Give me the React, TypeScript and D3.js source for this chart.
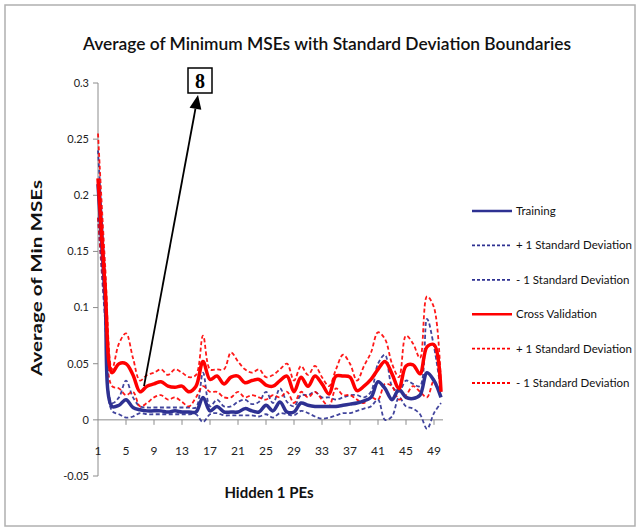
import * as d3 from 'd3';

// Hidden 1 PEs, 1..50
const categories = d3.range(1, 51);
const tickLabels = [1, 5, 9, 13, 17, 21, 25, 29, 33, 37, 41, 45, 49];
const yTicks = [-0.05, 0, 0.05, 0.1, 0.15, 0.2, 0.25, 0.3];

const training = [
  0.21, 0.11, 0.012, 0.013, 0.018, 0.011, 0.009, 0.008, 0.008, 0.008,
  0.007, 0.008, 0.007, 0.007, 0.007, 0.02, 0.008, 0.012, 0.007, 0.007,
  0.007, 0.01, 0.008, 0.007, 0.013, 0.008, 0.016, 0.007, 0.007, 0.015,
  0.013, 0.012, 0.012, 0.012, 0.012, 0.013, 0.014, 0.015, 0.017, 0.02,
  0.034, 0.028, 0.018, 0.027, 0.02, 0.019, 0.022, 0.042, 0.035, 0.02,
];
const trainingPlus = [
  0.24, 0.13, 0.015, 0.02, 0.035, 0.02, 0.012, 0.011, 0.011, 0.011,
  0.011, 0.011, 0.011, 0.011, 0.011, 0.042, 0.012, 0.018, 0.012, 0.012,
  0.016, 0.018, 0.014, 0.016, 0.025, 0.015, 0.028, 0.016, 0.012, 0.022,
  0.022, 0.025, 0.02, 0.02, 0.018, 0.02, 0.022, 0.022, 0.02, 0.025,
  0.05, 0.058, 0.03, 0.025, 0.035, 0.032, 0.03, 0.09, 0.065, 0.025,
];
const trainingMinus = [
  0.18, 0.09, 0.008, 0.005, 0.002, 0.003, 0.006, 0.005, 0.005, 0.005,
  0.005, 0.005, 0.005, 0.005, 0.005, -0.002, 0.005, 0.006, 0.004, 0.004,
  0.004, 0.004, 0.004, 0.003, 0.005, 0.002, 0.006, 0.005, 0.004, 0.008,
  0.006, 0.003, 0.001, 0.002, 0.004, 0.006, 0.006, 0.008, 0.01, 0.012,
  0.018, 0.0, 0.003, 0.02, 0.012, 0.01, 0.005, -0.008, 0.006, 0.015,
];
const crossVal = [
  0.215, 0.12, 0.042, 0.05, 0.05, 0.04, 0.025, 0.03, 0.032, 0.034,
  0.03, 0.029, 0.03, 0.025, 0.03, 0.052, 0.036, 0.039, 0.032, 0.038,
  0.039, 0.033, 0.035, 0.036, 0.031, 0.03, 0.035, 0.039, 0.025, 0.038,
  0.03, 0.039, 0.032, 0.023, 0.039, 0.039, 0.038, 0.026, 0.03, 0.036,
  0.045, 0.052, 0.041, 0.028, 0.048, 0.049, 0.041, 0.065, 0.067, 0.025,
];
const crossValPlus = [
  0.255, 0.14, 0.045, 0.068, 0.077, 0.055, 0.035, 0.04, 0.042, 0.045,
  0.04, 0.045, 0.042, 0.038, 0.04, 0.075, 0.045, 0.045, 0.045, 0.06,
  0.052, 0.045, 0.042, 0.045, 0.038, 0.04, 0.045, 0.05, 0.035, 0.048,
  0.04, 0.048, 0.038, 0.03, 0.045, 0.058, 0.05, 0.035, 0.048, 0.06,
  0.078, 0.072, 0.05, 0.038, 0.075, 0.068, 0.055, 0.11, 0.1, 0.03,
];
const crossValMinus = [
  0.18, 0.1, 0.03, 0.028, 0.022, 0.025, 0.012, 0.015, 0.02, 0.022,
  0.018, 0.02, 0.016, 0.012, 0.02, 0.03, 0.025, 0.025, 0.02, 0.02,
  0.025, 0.02, 0.022, 0.02, 0.018, 0.022, 0.02, 0.025, 0.015, 0.025,
  0.02, 0.025, 0.018, 0.012, 0.028, 0.022, 0.022, 0.018, 0.015, 0.02,
  0.018, 0.032, 0.03, 0.018, 0.022, 0.03, 0.025, 0.02, 0.035, 0.02,
];

const BLUE = '#2e3192';
const RED = '#ff0000';

const series = [
  { name: 'Training', values: training, color: BLUE, dashed: false },
  { name: '+ 1 Standard Deviation', values: trainingPlus, color: BLUE, dashed: true },
  { name: '- 1 Standard Deviation', values: trainingMinus, color: BLUE, dashed: true },
  { name: 'Cross Validation', values: crossVal, color: RED, dashed: false },
  { name: '+ 1 Standard Deviation', values: crossValPlus, color: RED, dashed: true },
  { name: '- 1 Standard Deviation', values: crossValMinus, color: RED, dashed: true },
];

const FONT = 'Lato, "Open Sans", sans-serif';

export default function App() {
  const W = 638;
  const H = 529;
  const x = d3.scalePoint<number>().domain(categories).range([98, 441]);
  const y = d3.scaleLinear().domain([-0.05, 0.3]).range([476, 83]);

  const line = d3
    .line<number>()
    .x((_, i) => x(categories[i]) as number)
    .y((d) => y(d))
    .curve(d3.curveCatmullRom.alpha(0.5));

  // draw order: dashed under solid
  const drawOrder = [1, 2, 4, 5, 0, 3];

  const arrowStart: [number, number] = [(x(8) as number) - 3, y(0.03)];
  const arrowTip: [number, number] = [198, 95];
  const ang = Math.atan2(arrowTip[1] - arrowStart[1], arrowTip[0] - arrowStart[0]);
  const headLen = 14;
  const headW = 6;
  const bx = arrowTip[0] - headLen * Math.cos(ang);
  const by = arrowTip[1] - headLen * Math.sin(ang);
  const head = [
    arrowTip,
    [bx + headW * Math.sin(ang), by - headW * Math.cos(ang)],
    [bx - headW * Math.sin(ang), by + headW * Math.cos(ang)],
  ];

  return (
    <svg
      width={W}
      height={H}
      style={{ position: 'absolute', left: 0, top: 0, background: '#fff' }}
    >
      <rect x={5} y={5} width={630} height={521} fill="#fff" stroke="#b0b0b0" strokeWidth={1.5} />

      <text
        x={327}
        y={50}
        textAnchor="middle"
        fontFamily={FONT}
        fontSize={18}
        fontWeight={600}
        fill="#111"
        textLength={488}
        lengthAdjust="spacingAndGlyphs"
      >
        Average of Minimum MSEs with Standard Deviation Boundaries
      </text>

      {/* y axis */}
      <line x1={98} x2={98} y1={y(0.3)} y2={y(-0.05)} stroke="#8c8c8c" />
      {yTicks.map((t) => (
        <g key={t}>
          <line x1={93} x2={98} y1={y(t)} y2={y(t)} stroke="#8c8c8c" />
          <text
            x={89}
            y={y(t)}
            dy="0.35em"
            textAnchor="end"
            fontFamily={FONT}
            fontSize={11}
            fill="#222"
          >
            {t}
          </text>
        </g>
      ))}

      {/* x axis at zero */}
      <line x1={98} x2={443} y1={y(0)} y2={y(0)} stroke="#8c8c8c" />
      {tickLabels.map((c) => (
        <g key={c}>
          {c !== 1 && (
            <line x1={x(c)} x2={x(c)} y1={y(0)} y2={y(0) + 5} stroke="#8c8c8c" />
          )}
          <text
            x={x(c)}
            y={455}
            textAnchor="middle"
            fontFamily={FONT}
            fontSize={12}
            fill="#222"
          >
            {c}
          </text>
        </g>
      ))}

      <text
        transform="translate(42,278) rotate(-90)"
        textAnchor="middle"
        fontFamily={FONT}
        fontSize={15}
        fontWeight="bold"
        fill="#111"
        textLength={196}
        lengthAdjust="spacingAndGlyphs"
      >
        Average of Min MSEs
      </text>
      <text
        x={269}
        y={498}
        textAnchor="middle"
        fontFamily={FONT}
        fontSize={15}
        fontWeight="bold"
        fill="#111"
      >
        Hidden 1 PEs
      </text>

      {drawOrder.map((i) => {
        const s = series[i];
        return (
          <path
            key={i}
            d={line(s.values) || ''}
            fill="none"
            stroke={s.color}
            strokeWidth={s.dashed ? 1.8 : 3.5}
            strokeDasharray={s.dashed ? '4,2.5' : undefined}
            strokeLinejoin="round"
            opacity={s.dashed ? 0.9 : 1}
          />
        );
      })}

      {/* legend */}
      {series.map((s, i) => {
        const ly = 211 + i * 34.4;
        return (
          <g key={i}>
            <line
              x1={472}
              x2={512}
              y1={ly}
              y2={ly}
              stroke={s.color}
              strokeWidth={s.dashed ? 1.8 : 2.5}
              strokeDasharray={s.dashed ? '3,2' : undefined}
            />
            <text x={516} y={ly} dy="0.35em" fontFamily={FONT} fontSize={11.5} fill="#111">
              {s.name}
            </text>
          </g>
        );
      })}

      {/* annotation */}
      <line
        x1={arrowStart[0]}
        y1={arrowStart[1]}
        x2={bx}
        y2={by}
        stroke="#000"
        strokeWidth={1.8}
      />
      <polygon points={head.map((p) => p.join(',')).join(' ')} fill="#000" />
      <rect x={188} y={68} width={24} height={25} fill="#fff" stroke="#000" strokeWidth={1.5} />
      <text
        x={200}
        y={88}
        textAnchor="middle"
        fontFamily='"Liberation Serif", serif'
        fontWeight="bold"
        fontSize={20}
        fill="#000"
      >
        8
      </text>
    </svg>
  );
}
